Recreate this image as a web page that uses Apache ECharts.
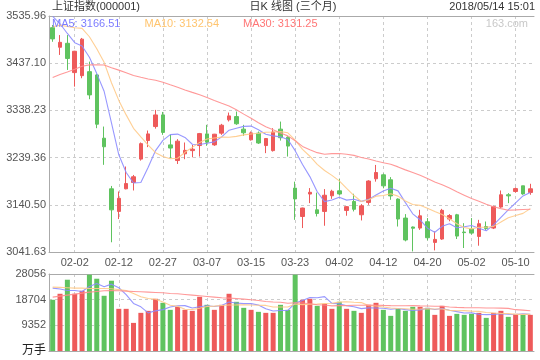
<!DOCTYPE html>
<html><head><meta charset="utf-8">
<script src="https://cdn.jsdelivr.net/npm/echarts@6/dist/echarts.min.js"></script>
<style>html,body{margin:0;padding:0;background:#fff}#c{width:540px;height:360px}</style>
</head><body><div id="c"></div>
<script>
// ---- data ----
const dates = ['01-30','01-31','02-01','02-02','02-05','02-06','02-07','02-08','02-09','02-12','02-13','02-14','02-22','02-23','02-26','02-27','02-28','03-01','03-02','03-05','03-06','03-07','03-08','03-09','03-12','03-13','03-14','03-15','03-16','03-19','03-20','03-21','03-22','03-23','03-26','03-27','03-28','03-29','03-30','04-02','04-03','04-04','04-09','04-10','04-11','04-12','04-13','04-16','04-17','04-18','04-19','04-20','04-23','04-24','04-25','04-26','04-27','05-02','05-03','05-04','05-07','05-08','05-09','05-10','05-11','05-14'];
const opens  = [3511.5,3470.5,3478.8,3417.4,3411.0,3419.4,3412.5,3280.0,3174.0,3126.6,3174.0,3187.2,3236.2,3275.1,3304.4,3328.8,3266.0,3233.2,3247.3,3254.0,3264.6,3289.0,3266.0,3290.6,3318.4,3325.3,3299.0,3276.6,3290.6,3264.6,3254.0,3299.0,3282.0,3175.5,3116.0,3163.0,3130.0,3126.6,3159.4,3169.8,3128.7,3147.5,3119.6,3145.4,3195.0,3203.3,3192.9,3152.5,3112.7,3094.0,3091.8,3105.0,3061.7,3068.8,3110.6,3119.6,3083.4,3089.7,3074.2,3095.0,3091.8,3135.8,3161.5,3168.4,3180.3,3166.3];
const closes = [3488.0,3480.8,3447.0,3462.1,3487.5,3370.7,3309.3,3262.1,3129.9,3154.1,3185.0,3199.2,3268.6,3289.0,3328.7,3292.1,3259.4,3273.8,3254.5,3256.9,3289.6,3271.7,3288.4,3307.2,3326.7,3310.2,3291.4,3291.1,3269.9,3279.3,3293.0,3281.0,3263.5,3152.8,3133.7,3166.7,3122.3,3160.5,3168.9,3163.2,3136.6,3131.1,3138.3,3190.3,3208.1,3180.2,3159.1,3110.7,3066.8,3091.4,3117.4,3071.5,3068.0,3128.9,3118.0,3075.0,3082.2,3081.2,3100.9,3091.0,3136.7,3161.5,3159.2,3174.4,3163.3,3174.0];
const lows   = [3482.0,3454.4,3423.0,3388.0,3405.6,3361.7,3301.0,3224.2,3062.0,3110.6,3173.0,3170.5,3233.0,3261.3,3300.0,3287.0,3238.0,3226.0,3236.0,3240.0,3241.6,3264.0,3264.0,3287.0,3315.0,3308.0,3285.0,3275.0,3268.0,3248.7,3252.0,3275.0,3241.6,3109.0,3091.8,3144.0,3116.0,3096.6,3153.0,3160.0,3117.6,3126.6,3107.7,3140.5,3189.0,3175.0,3151.0,3095.0,3064.0,3042.9,3088.0,3066.0,3045.0,3067.0,3106.0,3068.8,3050.0,3078.0,3054.8,3088.0,3089.7,3134.0,3144.0,3166.0,3161.5,3161.5];
const highs  = [3517.0,3496.0,3496.0,3463.0,3490.0,3440.4,3415.0,3304.4,3180.0,3168.4,3220.7,3203.0,3271.0,3296.0,3339.3,3335.0,3287.0,3278.0,3271.0,3266.0,3291.0,3308.0,3289.0,3310.0,3333.7,3335.8,3308.0,3294.0,3294.0,3280.0,3301.0,3314.8,3284.0,3189.0,3134.5,3175.5,3166.0,3173.4,3172.0,3194.3,3138.0,3163.6,3142.0,3192.0,3224.0,3206.0,3198.5,3154.0,3121.0,3095.0,3130.0,3112.7,3084.7,3132.0,3121.0,3121.5,3102.0,3112.7,3109.0,3105.5,3138.5,3170.5,3165.0,3176.8,3180.3,3184.5];
// closes of the 29 sessions before the window (they shape the start of the MA lines)
const priorCloses = [3296.54,3287.61,3300.06,3297.06,3280.46,3306.12,3275.78,3296.38,3307.17,3348.33,3369.11,3385.71,3391.75,3409.48,3413.90,3421.83,3425.34,3428.94,3410.49,3436.59,3444.67,3474.75,3487.86,3501.36,3546.50,3559.47,3548.31,3558.13,3523.00];
// volume, 万手
const volumes = [18656,20851,25972,20851,21948,27800,26337,20119,25606,15364,15364,10242,13900,14632,19022,17558,14998,16095,14998,14632,19753,16827,14998,16827,20851,17924,15729,14998,14266,13900,13900,16827,14998,27800,18656,19022,16461,17192,15364,17924,15364,14632,13900,16827,17558,14998,12803,15364,14632,16095,16095,15729,13168,16461,12803,13534,13168,13534,13900,12071,13900,14632,12437,13534,13168,13168];
// start of the volume MA lines (before a full window exists)
const volMa5Head  = [22924,22570,22058,22058];
const volMa10Head = [23290,23168,23045,22925,22925,22800,22800,22800,22680];
const volMa30Head = [19631,19997,20363,20729,21095,21460,21704,21948,22070,21948,21826,21704,21582,21460,21338,21216,20973,20851,20607,20363,20119,19875,19631,19387,19265,19143,18900,18656,18412];
const priceTicks = ['3041.63','3140.50','3239.36','3338.23','3437.10','3535.96'];
const volTicks = ['万手','9352','18704','28056'];
const maLabels = ['MA5: 3166.51','MA10: 3132.54','MA30: 3131.25'];
const titleText = '上证指数(000001)';
const centerText = '日K 线图 (三个月)';
const timeText = '2018/05/14 15:01';
const watermark = '163.com';

// ---- build ----
const RED = '#ee5a5a', GREEN = '#5fc35f';
const C5 = '#8c8cff', C10 = '#ffca88', C30 = '#ff8e8e';
const FONT = "'Liberation Sans','Noto Sans CJK SC',sans-serif";
const candles = dates.map((d, i) => [opens[i], closes[i], lows[i], highs[i]]);
function priceMA(n) {
  const all = priorCloses.concat(closes);
  return closes.map((_, i) => {
    const end = priorCloses.length + i;
    let s = 0;
    for (let k = end - n + 1; k <= end; k++) s += all[k];
    return +(s / n).toFixed(2);
  });
}
function volMA(n, head) {
  return volumes.map((v, i) => {
    if (i < n - 1) return head[i];
    let s = 0;
    for (let k = i - n + 1; k <= i; k++) s += volumes[k];
    return Math.round(s / n);
  });
}
const volBars = volumes.map((v, i) => ({ value: v, itemStyle: { color: closes[i] >= opens[i] ? RED : GREEN } }));
const labelIdx = (idx) => (idx - 3) % 6 === 0;
const pMin = parseFloat(priceTicks[0]), pMax = parseFloat(priceTicks[priceTicks.length - 1]);
const vMax = parseFloat(volTicks[volTicks.length - 1]);
const dash = { color: '#cccccc', type: [3, 3], width: 1 };
const axisCol = '#aaaaaa';

const catAxis = (grid, extra) => Object.assign({
  type: 'category', gridIndex: grid, data: dates, boundaryGap: true,
  axisLine: { show: true, onZero: false, lineStyle: { color: axisCol } },
  axisTick: { show: false }, axisLabel: { show: false },
  splitLine: { show: false }
}, extra);
const maLine = (xi, yi, data, color) => ({
  type: 'line', xAxisIndex: xi, yAxisIndex: yi, data, showSymbol: false, silent: true,
  lineStyle: { color, width: 1.1, opacity: 0.9 }, z: 3
});

const chart = echarts.init(document.getElementById('c'), null, { renderer: 'canvas' });
chart.setOption({
  animation: false,
  backgroundColor: '#fff',
  textStyle: { fontFamily: FONT },
  grid: [
    { left: 49, top: 16, width: 485, height: 236 },
    { left: 49, top: 274, width: 485, height: 77 }
  ],
  xAxis: [
    catAxis(0, {
      axisLabel: { show: true, interval: labelIdx, color: '#555', fontSize: 11, margin: 5, fontFamily: FONT },
      splitLine: { show: true, interval: labelIdx, alignWithLabel: true, lineStyle: dash }
    }),
    catAxis(0, { position: 'top' }),
    catAxis(1, { splitLine: { show: true, interval: labelIdx, alignWithLabel: true, lineStyle: dash } }),
    catAxis(1, { position: 'top' })
  ],
  yAxis: [
    {
      type: 'value', gridIndex: 0, min: pMin, max: pMax, interval: (pMax - pMin) / 5,
      axisLine: { show: true, lineStyle: { color: axisCol } }, axisTick: { show: false },
      axisLabel: { color: '#555', fontSize: 11, margin: 3, fontFamily: FONT, formatter: (v, i) => priceTicks[i] },
      splitLine: { show: true, lineStyle: dash }
    },
    {
      type: 'value', gridIndex: 1, min: 0, max: vMax, interval: vMax / 3,
      axisLine: { show: true, lineStyle: { color: axisCol } }, axisTick: { show: false },
      axisLabel: {
        color: '#555', fontSize: 11, margin: 3, fontFamily: FONT,
        formatter: (v, i) => i === 0 ? '{u|' + volTicks[0] + '}' : volTicks[i],
        rich: { u: { fontSize: 12, color: '#222', fontFamily: FONT } }
      },
      splitLine: { show: true, lineStyle: dash }
    }
  ],
  series: [
    {
      type: 'candlestick', xAxisIndex: 0, yAxisIndex: 0, data: candles, barWidth: 4,
      itemStyle: { color: RED, color0: GREEN, borderColor: RED, borderColor0: GREEN, borderWidth: 1 },
      silent: true
    },
    maLine(0, 0, priceMA(5), C5),
    maLine(0, 0, priceMA(10), C10),
    maLine(0, 0, priceMA(30), C30),
    { type: 'bar', xAxisIndex: 2, yAxisIndex: 1, data: volBars, barWidth: 5, silent: true },
    maLine(2, 1, volMA(5, volMa5Head), C5),
    maLine(2, 1, volMA(10, volMa10Head), C10),
    maLine(2, 1, volMA(30, volMa30Head), C30)
  ],
  graphic: [
    { type: 'text', x: 52, y: 6.5, style: { text: titleText, font: '11px ' + FONT, fill: '#333', verticalAlign: 'middle' } },
    { type: 'text', x: 293, y: 6.5, style: { text: centerText, font: '11px ' + FONT, fill: '#333', align: 'center', verticalAlign: 'middle' } },
    { type: 'text', x: 535, y: 6.5, style: { text: timeText, font: '11px ' + FONT, fill: '#333', align: 'right', verticalAlign: 'middle' } },
    { type: 'text', x: 52, y: 23.5, z: 10, style: { text: maLabels[0], font: '11px ' + FONT, fill: '#7c7cff', verticalAlign: 'middle' } },
    { type: 'text', x: 144.5, y: 23.5, z: 10, style: { text: maLabels[1], font: '11px ' + FONT, fill: '#ffc46e', verticalAlign: 'middle' } },
    { type: 'text', x: 243, y: 23.5, z: 10, style: { text: maLabels[2], font: '11px ' + FONT, fill: '#ff7676', verticalAlign: 'middle' } },
    { type: 'text', x: 528, y: 23.5, z: 10, style: { text: watermark, font: '11px ' + FONT, fill: '#c8c8c8', align: 'right', verticalAlign: 'middle' } }
  ]
});
</script></body></html>
